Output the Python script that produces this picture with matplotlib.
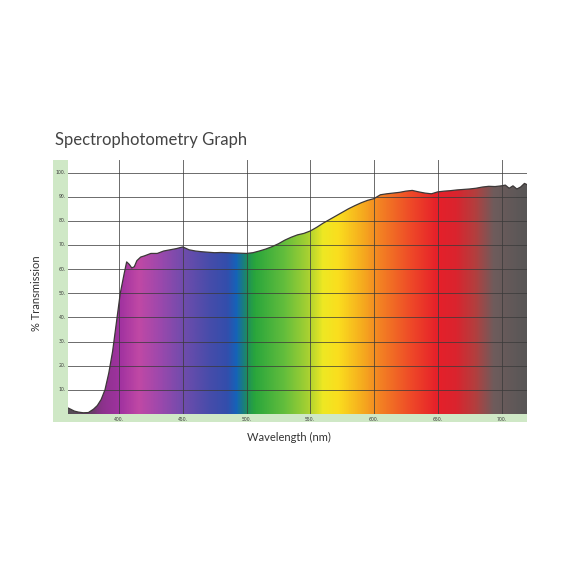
"""Spectrophotometry transmission curve with a visible-spectrum fill."""

import matplotlib

matplotlib.use("Agg")
import matplotlib.pyplot as plt
import numpy as np
from matplotlib.colors import LinearSegmentedColormap
from matplotlib.patches import Rectangle

# measured curve (nm, % transmission)
wavelength = [360, 362, 365, 368, 372, 376, 380, 383, 386, 389,
              392, 395, 398, 401, 404, 406, 408, 410, 412, 414,
              417, 420, 425, 430, 435, 440, 445, 450, 455, 460,
              465, 470, 475, 480, 490, 500, 505, 510, 515, 520,
              525, 530, 535, 540, 545, 550, 555, 560, 565, 570,
              575, 580, 585, 590, 595, 600, 605, 610, 615, 620,
              625, 630, 635, 640, 645, 650, 655, 660, 665, 670,
              675, 680, 685, 690, 695, 700, 703, 706, 709, 712,
              715, 718, 720]
transmission = [2.5, 2.0, 1.2, 0.8, 0.5, 0.6, 2.0, 3.5, 6.0, 10.0,
                17, 26, 38, 50, 58, 63, 62, 60.5, 61, 63.5,
                65, 65.5, 66.5, 66.5, 67.5, 68, 68.5, 69.2, 68, 67.5,
                67.2, 67, 66.8, 66.9, 66.7, 66.5, 66.8, 67.5, 68.3, 69.3,
                70.5, 72, 73.2, 74.2, 74.8, 75.8, 77.3, 79, 80.5, 82,
                83.5, 85, 86.3, 87.5, 88.5, 89.2, 90.8, 91.2, 91.5, 91.8,
                92.3, 92.6, 92, 91.5, 91.2, 92, 92.3, 92.5, 92.8, 93,
                93.2, 93.5, 94, 94.3, 94.2, 94.5, 94.8, 93.5, 94.5, 93.2,
                94, 95.5, 95]

x_ticks = [400, 450, 500, 550, 600, 650, 700]
y_ticks = [10, 20, 30, 40, 50, 60, 70, 80, 90, 100]

# approximate spectrum colours along the wavelength axis
spectrum_nm = [360, 378, 386, 400, 415, 430, 450, 470, 485, 492, 500, 506,
               530, 548, 560, 572, 590, 605, 630, 650, 665, 680, 695, 720]
spectrum_rgb = [(85, 78, 85), (105, 60, 105), (140, 50, 140), (160, 50, 160),
                (192, 72, 165), (160, 72, 172), (112, 76, 172), (72, 76, 170),
                (50, 78, 172), (20, 100, 185), (30, 140, 95), (40, 165, 60),
                (100, 190, 60), (165, 208, 50), (238, 232, 35), (250, 222, 30),
                (246, 175, 30), (243, 130, 35), (238, 72, 40), (230, 32, 42),
                (218, 36, 46), (180, 62, 62), (110, 92, 92), (88, 86, 86)]

X_MIN, X_MAX = 360, 720
Y_MIN, Y_MAX = 0, 105.2

W = H = 576
fig = plt.figure(figsize=(5.76, 5.76), dpi=100)
fig.patch.set_facecolor("white")


def fx(px):
    return px / W


def fy(py):
    return 1 - py / H


left, right, top, bottom = 68, 527, 160, 414

# background axes just for the green label strips
bg = fig.add_axes([0, 0, 1, 1], zorder=0)
bg.set_xlim(0, W)
bg.set_ylim(H, 0)
bg.axis("off")
strip = "#cfe8c6"
bg.add_patch(Rectangle((53, top), left - 53, 422 - top, color=strip, lw=0))
bg.add_patch(Rectangle((53, bottom), right - 53, 422 - bottom, color=strip, lw=0))

ax = fig.add_axes([fx(left), fy(bottom), fx(right - left), (bottom - top) / H], zorder=1)
ax.set_xlim(X_MIN, X_MAX)
ax.set_ylim(Y_MIN, Y_MAX)
ax.patch.set_alpha(0)

# gradient clipped to the area under the curve
cmap = LinearSegmentedColormap.from_list(
    "spectrum",
    [((nm - X_MIN) / (X_MAX - X_MIN), tuple(c / 255 for c in rgb))
     for nm, rgb in zip(spectrum_nm, spectrum_rgb)],
)
grad = np.linspace(0, 1, 720).reshape(1, -1)
img = ax.imshow(grad, cmap=cmap, aspect="auto", extent=[X_MIN, X_MAX, Y_MIN, Y_MAX],
                origin="lower", zorder=1, interpolation="bilinear")
poly = ax.fill_between(wavelength, transmission, 0, color="none", lw=0)
img.set_clip_path(poly.get_paths()[0], transform=ax.transData)
ax.plot(wavelength, transmission, color="#3c3838", lw=0.9, zorder=3)

# grid
for x in x_ticks:
    ax.axvline(x, color="#3a3a3a", lw=0.7, alpha=0.75, zorder=2)
for y in y_ticks:
    ax.axhline(y, color="#3a3a3a", lw=0.7, alpha=0.75, zorder=2)

ax.set_xticks([])
ax.set_yticks([])
for spine in ax.spines.values():
    spine.set_visible(False)

# tiny tick labels inside the strips
for y in y_ticks:
    ax.text(X_MIN - 1.8, y, f"{y}.", ha="right", va="center", fontsize=3.3,
            color="#3a3a3a", clip_on=False, zorder=4)
for x in x_ticks:
    ax.text(x, -1.4, f"{x}.", ha="center", va="top", fontsize=3.3,
            color="#3a3a3a", clip_on=False, zorder=4)

fig.text(fx(55), fy(140), "Spectrophotometry Graph", family="Lato",
         fontsize=12, color="#444444", ha="left", va="center")
fig.text(fx(289), fy(437), "Wavelength (nm)", family="Lato", fontsize=8,
         color="#333333", ha="center", va="center")
fig.text(fx(37), fy(293), "% Transmission", family="Lato", fontsize=8,
         color="#333333", ha="center", va="center", rotation=90)

fig.savefig("out.png", dpi=100, facecolor="white")
